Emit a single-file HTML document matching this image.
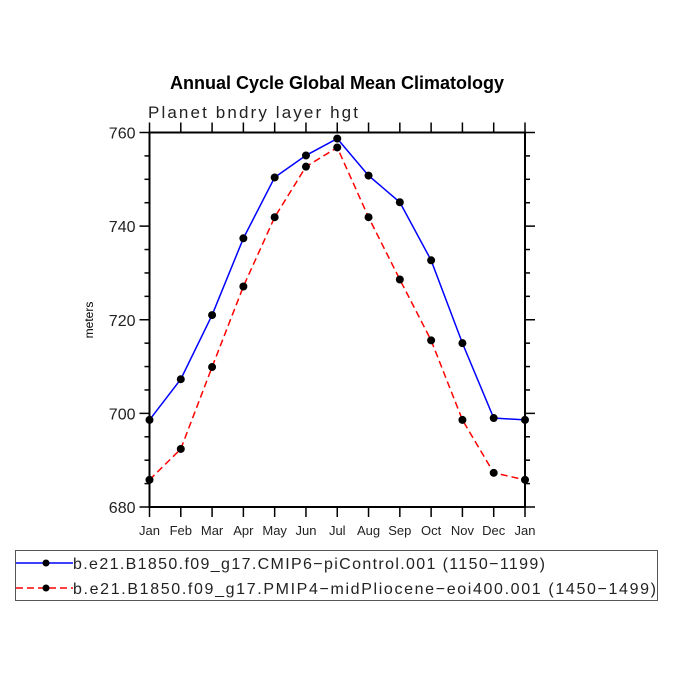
<!DOCTYPE html>
<html><head><meta charset="utf-8"><style>
html,body{margin:0;padding:0;background:#fff;}
svg{display:block;font-family:"Liberation Sans",sans-serif;}
</style></head><body>
<svg id="chart" width="675" height="675" viewBox="0 0 675 675">
<text x="337" y="89" text-anchor="middle" font-size="18" font-weight="bold">Annual Cycle Global Mean Climatology</text>
<text x="148" y="118" font-size="17" fill="#222" textLength="210">Planet bndry layer hgt</text>
<text transform="translate(93,320) rotate(-90)" text-anchor="middle" font-size="12">meters</text>
<g id="axes"></g>
<g id="series"></g>
<rect x="15.5" y="550.5" width="642" height="50" fill="none" stroke="#555" stroke-width="1"/>
<g id="legend"></g>
</svg>
<script>
const months = ["Jan","Feb","Mar","Apr","May","Jun","Jul","Aug","Sep","Oct","Nov","Dec","Jan"];
const piControl = [698.6,707.3,721.0,737.4,750.4,755.1,758.7,750.8,745.1,732.7,715.0,699.0,698.6];
const midPliocene = [685.8,692.4,709.9,727.1,741.9,752.7,756.8,741.9,728.6,715.6,698.6,687.3,685.8];
const yTicks = [680,700,720,740,760];
const legendLabels = ["b.e21.B1850.f09_g17.CMIP6\u2212piControl.001 (1150\u22121199)","b.e21.B1850.f09_g17.PMIP4\u2212midPliocene\u2212eoi400.001 (1450\u22121499)"];
const L=149.5,R=525,T=132.5,B=507,yMin=680,yMax=760;
const xs=i=>L+(R-L)*i/(months.length-1);
const ys=v=>B-(v-yMin)/(yMax-yMin)*(B-T);
const NS="http://www.w3.org/2000/svg";
function mk(tag,attrs,parent){const e=document.createElementNS(NS,tag);for(const k in attrs)e.setAttribute(k,attrs[k]);parent.appendChild(e);return e;}
const ax=document.getElementById('axes');
const frame=mk('rect',{x:L,y:T,width:R-L,height:B-T,fill:'none',stroke:'#000','stroke-width':2},ax);


months.forEach((m,i)=>{
  const x=xs(i);
  mk('line',{x1:x,y1:B,x2:x,y2:B+10,stroke:'#000','stroke-width':1.5},ax);
  mk('line',{x1:x,y1:T,x2:x,y2:T-10,stroke:'#000','stroke-width':1.5},ax);
  const t=mk('text',{x:x,y:B+28,'text-anchor':'middle','font-size':13,fill:'#222'},ax);
  t.textContent=m;
  
  
});
for(let v=yMin;v<=yMax;v+=5){
  const y=ys(v),maj=(v%20===0);
  const len=maj?10:5;
  mk('line',{x1:L,y1:y,x2:L-len,y2:y,stroke:'#000','stroke-width':1.5},ax);
  mk('line',{x1:R,y1:y,x2:R+len,y2:y,stroke:'#000','stroke-width':1.5},ax);
}
yTicks.forEach(v=>{
  const t=mk('text',{x:L-14,y:ys(v)+6,'text-anchor':'end','font-size':16,fill:'#222'},ax);
  t.textContent=v;
  
  
});
const sg=document.getElementById('series');
function drawSeries(data,color,dash,name){
  const g=mk('g',{},sg);
  
  
  const pts=data.map((v,i)=>xs(i)+','+ys(v)).join(' ');
  const attrs={points:pts,fill:'none',stroke:color,'stroke-width':1.5};
  if(dash)attrs['stroke-dasharray']=dash;
  mk('polyline',attrs,g);
  data.forEach((v,i)=>{
    const c=mk('circle',{cx:xs(i),cy:ys(v),r:4,fill:'#000'},g);
    
    
  });
}
drawSeries(piControl,'#0000ff',null,'series-picontrol');
drawSeries(midPliocene,'#ff0000','7,4','series-midpliocene');
const lg=document.getElementById('legend');
[['#0000ff',null,563],['#ff0000','7,4',588]].forEach((s,i)=>{
  const g=mk('g',{},lg);
  
  
  const a={x1:16,y1:s[2],x2:73,y2:s[2],stroke:s[0],'stroke-width':1.5};
  if(s[1])a['stroke-dasharray']=s[1];
  mk('line',a,g);
  mk('circle',{cx:46,cy:s[2],r:3.5,fill:'#000'},g);
  const t=mk('text',{x:73,y:s[2]+6,'font-size':16,fill:'#222',textLength:i?583:472},g);
  t.textContent=legendLabels[i];
});
</script>
</body></html>
